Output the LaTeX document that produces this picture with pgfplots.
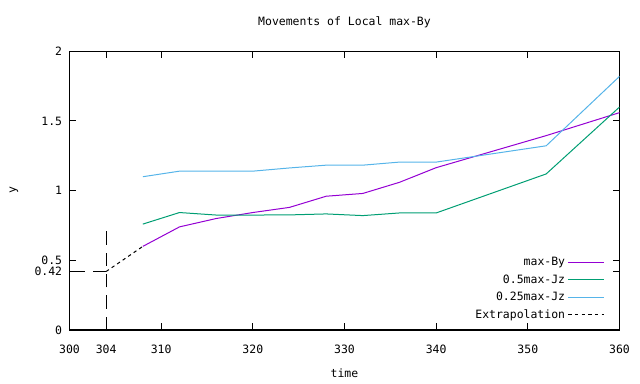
\documentclass[border=0pt]{standalone}
\usepackage{fontspec}
\setmainfont{DejaVu Sans Mono}
\setmonofont{DejaVu Sans Mono}
\usepackage{pgfplots}
\pgfplotsset{compat=1.18}
\definecolor{gpurple}{HTML}{9400D3}
\definecolor{ggreen}{HTML}{009E73}
\definecolor{gblue}{HTML}{56B4E9}
\begin{document}
\begin{tikzpicture}[x=0.75pt,y=0.75pt]
\begin{axis}[
  scale only axis, width=412.5pt, height=209pt,
  xmin=300, xmax=360, ymin=0, ymax=2,
  xtick={300,304,310,320,330,340,350,360},
  xticklabels={300,304,310,320,330,340,350,360},
  ytick={0,0.42,0.5,1,1.5,2},
  yticklabels={0,0.42,0.5,1,1.5,2},
  /pgf/number format/assume math mode=true,
  font=\fontsize{8.6}{10}\selectfont,
  tick align=inside, xtick pos=both, ytick pos=both,
  major tick length=5pt,
  tick style={black, line width=0.75pt},
  axis line style={line width=0.8pt},
  xticklabel style={yshift=-7.5pt},
  yticklabel style={xshift=-2pt},
  legend style={draw=none, fill=none, at={(rel axis cs:0.981,0.015)}, anchor=south east,
    font=\fontsize{8.6}{10}\selectfont, row sep=1.2pt},
  legend cell align=right,
  legend plot pos=right,
  legend image code/.code={\draw[#1] (0pt,0pt) -- (27pt,0pt);},
]
\addplot[gpurple, line width=0.75pt] coordinates {
 (308,0.60) (312,0.74) (316,0.80) (320,0.843) (324,0.88) (328,0.96) (332,0.98)
 (336,1.06) (340,1.165) (352,1.395) (360,1.56)};
\addlegendentry{max-By}
\addplot[ggreen, line width=0.75pt] coordinates {
 (308,0.76) (312,0.843) (316,0.825) (320,0.825) (324,0.826) (328,0.833) (332,0.821)
 (336,0.84) (340,0.84) (352,1.12) (360,1.60)};
\addlegendentry{0.5max-Jz}
\addplot[gblue, line width=0.75pt] coordinates {
 (308,1.10) (312,1.14) (316,1.14) (320,1.14) (324,1.163) (328,1.183) (332,1.183)
 (336,1.205) (340,1.205) (352,1.322) (360,1.82)};
\addlegendentry{0.25max-Jz}
\addplot[black, line width=0.75pt, dash pattern=on 2.5pt off 2.5pt] coordinates {
 (304,0.42) (308,0.60)};
\addlegendentry{Extrapolation}
\addplot[black, line width=0.75pt, dash pattern=on 10pt off 6pt, forget plot] coordinates {
 (304,0.0) (304,0.71)};
\addplot[black, line width=0.75pt, dash pattern=on 10pt off 6pt, forget plot] coordinates {
 (304,0.42) (300,0.42)};
\coordinate (sw) at (rel axis cs:0,0);
\end{axis}
\pgfresetboundingbox
\path[use as bounding box] ([shift={(-69.5,-54)}]sw) rectangle ([shift={(570.5,330)}]sw);
\node[font=\fontsize{8.6}{10}\selectfont] at ([shift={(275,308)}]sw) {Movements of Local max-By};
\node[font=\fontsize{8.6}{10}\selectfont] at ([shift={(275,-43)}]sw) {time};
\node[font=\fontsize{8.6}{10}\selectfont, rotate=90] at ([shift={(-55.5,140)}]sw) {y};
\end{tikzpicture}
\end{document}
